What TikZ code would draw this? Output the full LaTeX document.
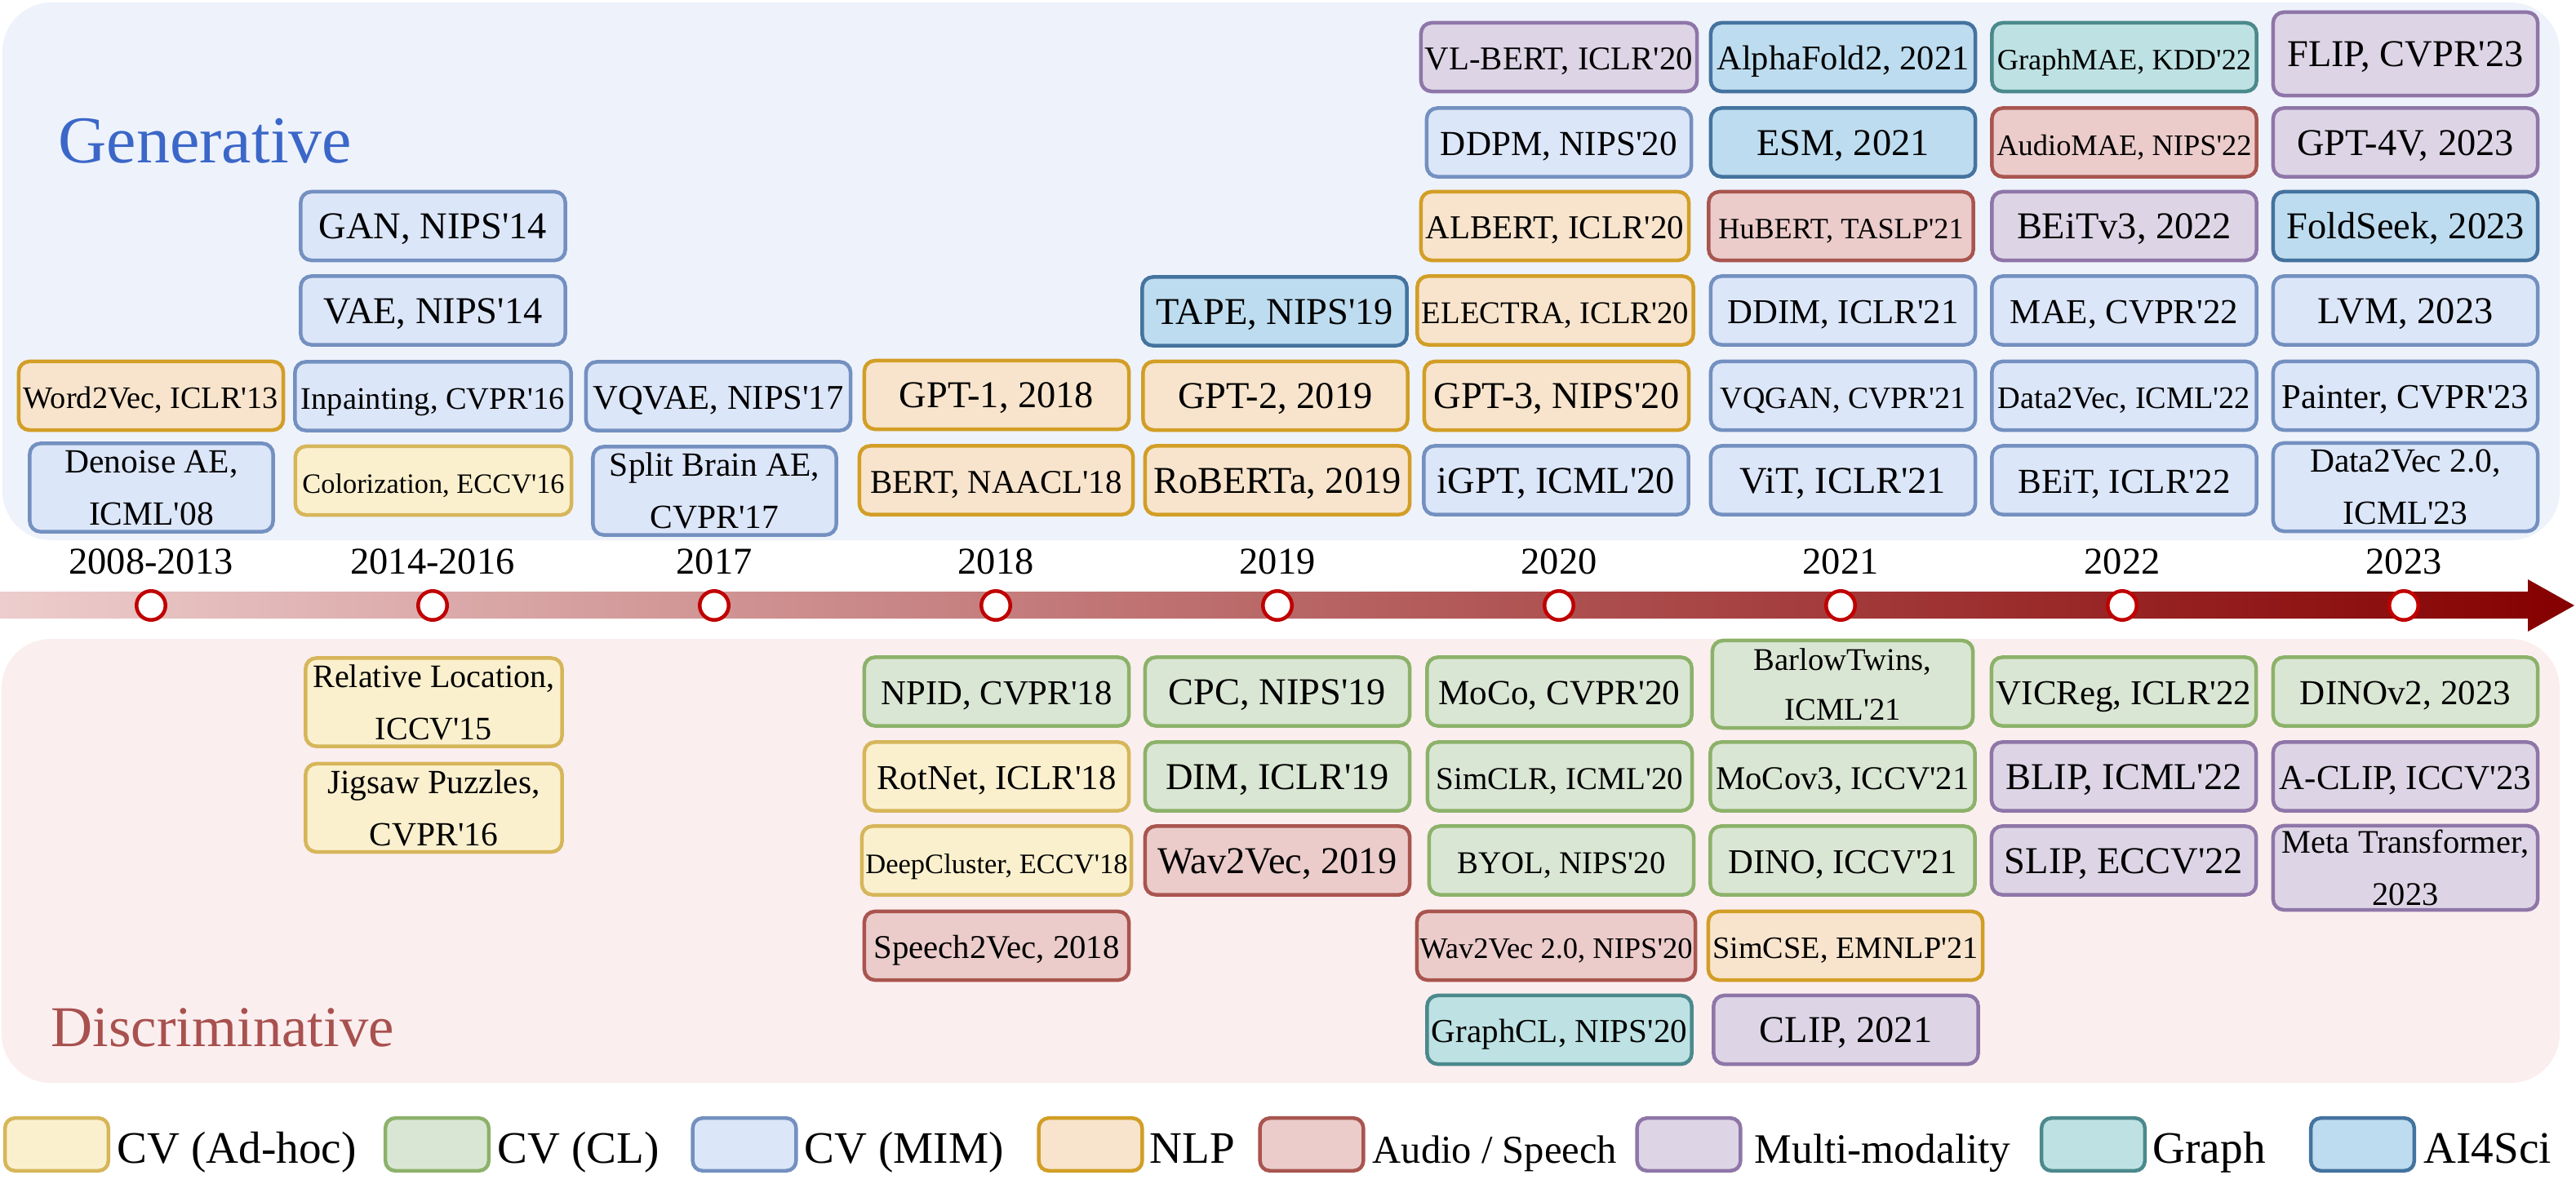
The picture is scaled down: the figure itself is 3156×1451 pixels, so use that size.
\documentclass[tikz,border=0pt]{standalone}
\usepackage{fontspec}
\setmainfont{Liberation Serif}[Ligatures=TeXOff]
\usepackage{graphicx}

\definecolor{topbg}{HTML}{EEF2FB}
\definecolor{botbg}{HTML}{FBEEEF}
\definecolor{genblue}{HTML}{3B67C8}
\definecolor{disred}{HTML}{A8514F}
\definecolor{barL}{HTML}{EDCDCD}
\definecolor{barR}{HTML}{850000}
\definecolor{tickred}{HTML}{C00000}
\definecolor{adhocF}{HTML}{FBF0CE}\definecolor{adhocD}{HTML}{D6B65A}
\definecolor{clF}{HTML}{DAE6D4}\definecolor{clD}{HTML}{8CB26A}
\definecolor{mimF}{HTML}{DCE6F9}\definecolor{mimD}{HTML}{7390C0}
\definecolor{nlpF}{HTML}{F8E4CC}\definecolor{nlpD}{HTML}{D29E26}
\definecolor{audF}{HTML}{EBCCCB}\definecolor{audD}{HTML}{A9554F}
\definecolor{mmF}{HTML}{DDD5E6}\definecolor{mmD}{HTML}{8F76A8}
\definecolor{grF}{HTML}{BEE2E3}\definecolor{grD}{HTML}{4B898C}
\definecolor{aiF}{HTML}{BDDCEF}\definecolor{aiD}{HTML}{44739F}

\newsavebox{\fitbox}
\newcommand{\fitt}[2][3.1cm]{\sbox{\fitbox}{#2}%
  \ifdim\wd\fitbox>#1\relax\resizebox{#1}{!}{\usebox{\fitbox}}\else\usebox{\fitbox}\fi}

\begin{document}
\begin{tikzpicture}[x=0.01cm,y=-0.01cm,
  paper/.style={rounded corners=0.13cm, line width=0.045cm, minimum width=3.24cm, minimum height=0.84cm,
    inner sep=0pt, font=\fontsize{13.2}{15.8}\selectfont, text height=0.31cm, text depth=0cm},
  two/.style={align=center, text height={}, text depth={}, font=\fontsize{11.8}{18.2}\selectfont,
    minimum width=2.98cm, minimum height=1.08cm},
  wide/.style={minimum width=3.38cm},
  adhoc/.style={paper, fill=adhocF, draw=adhocD},
  cl/.style={paper, fill=clF, draw=clD},
  mim/.style={paper, fill=mimF, draw=mimD},
  nlp/.style={paper, fill=nlpF, draw=nlpD},
  aud/.style={paper, fill=audF, draw=audD},
  mm/.style={paper, fill=mmF, draw=mmD},
  gr/.style={paper, fill=grF, draw=grD},
  ai/.style={paper, fill=aiF, draw=aiD},
  tick/.style={circle, draw=tickred, fill=white, line width=0.045cm, minimum size=0.355cm, inner sep=0pt},
  yearlab/.style={anchor=base, inner sep=0pt, font=\fontsize{13.2}{15.8}\selectfont},
  swatch/.style={minimum width=1.265cm, minimum height=0.645cm, rounded corners=0.12cm},
  leglab/.style={anchor=base west, inner sep=0pt, font=\fontsize{15.7}{18}\selectfont}]
\useasboundingbox (0,0) rectangle (3156,1451);

% panels
\fill[topbg, rounded corners=0.6cm] (3,3) rectangle (3136,662);
\fill[botbg, rounded corners=0.6cm] (2,783) rectangle (3136,1327);
\node[anchor=base west, inner sep=0pt, text=genblue, font=\fontsize{23.3}{28}\selectfont] (gen) at (71,199) {Generative};
\node[anchor=base west, inner sep=0pt, text=disred, font=\fontsize{20.1}{24}\selectfont] (dis) at (62,1282) {Discriminative};

% time line
\shade[left color=barL, right color=barR] (0,725) -- (3097,725) -- (3097,710) -- (3154,742)
  -- (3097,774) -- (3097,758) -- (0,758) -- cycle;
\foreach \yr [count=\i from 0] in {2008-2013,2014-2016,2017,2018,2019,2020,2021,2022,2023}{
  \node[tick] (t\i) at ({185+345*\i},742) {};
  \node[yearlab] (y\i) at ({185+345*\i},703) {\yr};
}

% generative
\node[nlp] (w2v) at (185,485) {\fitt[3.12cm]{Word2Vec, ICLR'13}};
\node[mim, two] (dae) at (185.5,597.5) {Denoise AE,\\ ICML'08};
\node[mim] (gan) at (530.5,277) {\fitt{GAN, NIPS'14}};
\node[mim] (vae) at (530.5,380.5) {\fitt{VAE, NIPS'14}};
\node[mim, wide] (inpaint) at (530.5,485.5) {\fitt[3.23cm]{Inpainting, CVPR'16}};
\node[adhoc, wide] (color) at (531,589) {\fitt[3.21cm]{Colorization, ECCV'16}};
\node[mim] (vqvae) at (880,485.5) {\fitt[3.07cm]{VQVAE, NIPS'17}};
\node[mim, two] (splitbrain) at (875.5,601.5) {Split Brain AE,\\ CVPR'17};
\node[nlp] (gpt1) at (1221,484) {\fitt{GPT-1, 2018}};
\node[nlp, minimum width=3.35cm] (bert) at (1220.5,588.5) {\fitt[3.08cm]{BERT, NAACL'18}};
\node[ai] (tape) at (1561.5,381.5) {\fitt{TAPE, NIPS'19}};
\node[nlp] (gpt2) at (1562.5,485) {\fitt{GPT-2, 2019}};
\node[nlp] (roberta) at (1565,588.5) {\fitt[3.09cm]{RoBERTa, 2019}};
\node[mm, wide] (vlbert) at (1910,70) {\fitt[3.28cm]{VL-BERT, ICLR'20}};
\node[mim] (ddpm) at (1910,174.5) {\fitt[2.9cm]{DDPM, NIPS'20}};
\node[nlp, minimum width=3.28cm] (albert) at (1905,277) {\fitt[3.16cm]{ALBERT, ICLR'20}};
\node[nlp, wide] (electra) at (1905.5,380.5) {\fitt[3.27cm]{ELECTRA, ICLR'20}};
\node[nlp] (gpt3) at (1907,485) {\fitt[3.05cm]{GPT-3, NIPS'20}};
\node[mim] (igpt) at (1906.5,588.5) {\fitt{iGPT, ICML'20}};
\node[ai] (alphafold) at (2258,70) {\fitt[3.09cm]{AlphaFold2, 2021}};
\node[ai] (esm) at (2258,174.5) {\fitt{ESM, 2021}};
\node[aud] (hubert) at (2255.5,277) {\fitt[3.0cm]{HuBERT, TASLP'21}};
\node[mim] (ddim) at (2258,380.5) {\fitt[2.83cm]{DDIM, ICLR'21}};
\node[mim] (vqgan) at (2258,485) {\fitt[3.0cm]{VQGAN, CVPR'21}};
\node[mim] (vit) at (2258,588.5) {\fitt[2.53cm]{ViT, ICLR'21}};
\node[gr] (graphmae) at (2602.5,70) {\fitt[3.11cm]{GraphMAE, KDD'22}};
\node[aud] (audiomae) at (2602.5,174.5) {\fitt[3.12cm]{AudioMAE, NIPS'22}};
\node[mm] (beitv3) at (2602.5,277) {\fitt{BEiTv3, 2022}};
\node[mim] (mae) at (2602.5,380.5) {\fitt[2.79cm]{MAE, CVPR'22}};
\node[mim] (d2v) at (2602.5,485) {\fitt[3.09cm]{Data2Vec, ICML'22}};
\node[mim] (beit) at (2602.5,588.5) {\fitt[2.6cm]{BEiT, ICLR'22}};
\node[mm, minimum height=1.02cm] (flip) at (2947,66) {\fitt[2.94cm]{FLIP, CVPR'23}};
\node[mm] (gpt4v) at (2947,174.5) {\fitt[2.69cm]{GPT-4V, 2023}};
\node[ai] (foldseek) at (2947,277) {\fitt{FoldSeek, 2023}};
\node[mim] (lvm) at (2947,380.5) {\fitt{LVM, 2023}};
\node[mim] (painter) at (2947,485) {\fitt[3.02cm]{Painter, CVPR'23}};
\node[mim, two, minimum width=3.24cm] (d2vtwo) at (2947,597) {Data2Vec 2.0,\\ ICML'23};

% discriminative
\node[adhoc, two, minimum width=3.14cm, font=\fontsize{11.4}{18.2}\selectfont] (relloc) at (531.5,860.5) {Relative Location,\\ ICCV'15};
\node[adhoc, two, minimum width=3.14cm] (jigsaw) at (531.5,990) {Jigsaw Puzzles,\\ CVPR'16};
\node[cl] (npid) at (1221,847.5) {\fitt[2.83cm]{NPID, CVPR'18}};
\node[adhoc] (rotnet) at (1221,951.5) {\fitt[2.93cm]{RotNet, ICLR'18}};
\node[adhoc, minimum width=3.3cm] (deepcluster) at (1221,1054.5) {\fitt[3.21cm]{DeepCluster, ECCV'18}};
\node[aud] (speech2vec) at (1221,1159) {\fitt[3.01cm]{Speech2Vec, 2018}};
\node[cl] (cpc) at (1565,847.5) {\fitt[2.72cm]{CPC, NIPS'19}};
\node[cl] (dim) at (1565,951.5) {\fitt{DIM, ICLR'19}};
\node[aud] (wav2vec) at (1565,1054.5) {\fitt[2.97cm]{Wav2Vec, 2019}};
\node[cl] (moco) at (1910.5,847.5) {\fitt[2.96cm]{MoCo, CVPR'20}};
\node[cl] (simclr) at (1911,951.5) {\fitt[3.02cm]{SimCLR, ICML'20}};
\node[cl] (byol) at (1913,1054.5) {\fitt[2.55cm]{BYOL, NIPS'20}};
\node[aud, minimum width=3.41cm] (wav2vectwo) at (1906.5,1159) {\fitt[3.34cm]{Wav2Vec 2.0, NIPS'20}};
\node[gr] (graphcl) at (1910.5,1262) {\fitt[3.13cm]{GraphCL, NIPS'20}};
\node[cl, two, minimum width=3.19cm, minimum height=1.07cm, font=\fontsize{11}{17.3}\selectfont] (barlow) at (2257.5,838.5) {BarlowTwins,\\ ICML'21};
\node[cl] (mocov3) at (2257.5,951.5) {\fitt[3.1cm]{MoCov3, ICCV'21}};
\node[cl] (dino) at (2257.5,1054.5) {\fitt[2.8cm]{DINO, ICCV'21}};
\node[nlp, minimum width=3.36cm] (simcse) at (2261,1159) {\fitt[3.25cm]{SimCSE, EMNLP'21}};
\node[mm] (clip) at (2261.5,1262) {\fitt{CLIP, 2021}};
\node[cl] (vicreg) at (2602,847.5) {\fitt[3.12cm]{VICReg, ICLR'22}};
\node[mm] (blip) at (2602,951.5) {\fitt{BLIP, ICML'22}};
\node[mm] (slip) at (2602,1054.5) {\fitt{SLIP, ECCV'22}};
\node[cl] (dinov2) at (2947,847.5) {\fitt[2.58cm]{DINOv2, 2023}};
\node[mm] (aclip) at (2947,951.5) {\fitt[3.08cm]{A-CLIP, ICCV'23}};
\node[mm, two, minimum width=3.24cm, minimum height=1.03cm, font=\fontsize{11.5}{18.2}\selectfont] (meta) at (2947,1063.5) {Meta Transformer,\\ 2023};

% legend
\node[adhoc, swatch] (lg1) at (69.5,1402.5) {};
\node[leglab] (lt1) at (143,1425) {CV (Ad-hoc)};
\node[cl, swatch] (lg2) at (535.5,1402.5) {};
\node[leglab] (lt2) at (609,1425) {CV (CL)};
\node[mim, swatch] (lg3) at (912,1402.5) {};
\node[leglab] (lt3) at (985,1425) {CV (MIM)};
\node[nlp, swatch] (lg4) at (1336,1402.5) {};
\node[leglab] (lt4) at (1408,1425) {NLP};
\node[aud, swatch] (lg5) at (1607,1402.5) {};
\node[leglab, font=\fontsize{13.8}{16}\selectfont] (lt5) at (1681,1425) {Audio / Speech};
\node[mm, swatch] (lg6) at (2069,1402.5) {};
\node[leglab, font=\fontsize{14.6}{17}\selectfont] (lt6) at (2149,1425) {Multi-modality};
\node[gr, swatch] (lg7) at (2564.5,1402.5) {};
\node[leglab] (lt7) at (2637,1425) {Graph};
\node[ai, swatch] (lg8) at (2894.5,1402.5) {};
\node[leglab] (lt8) at (2969,1425) {AI4Sci};
\end{tikzpicture}
\end{document}
